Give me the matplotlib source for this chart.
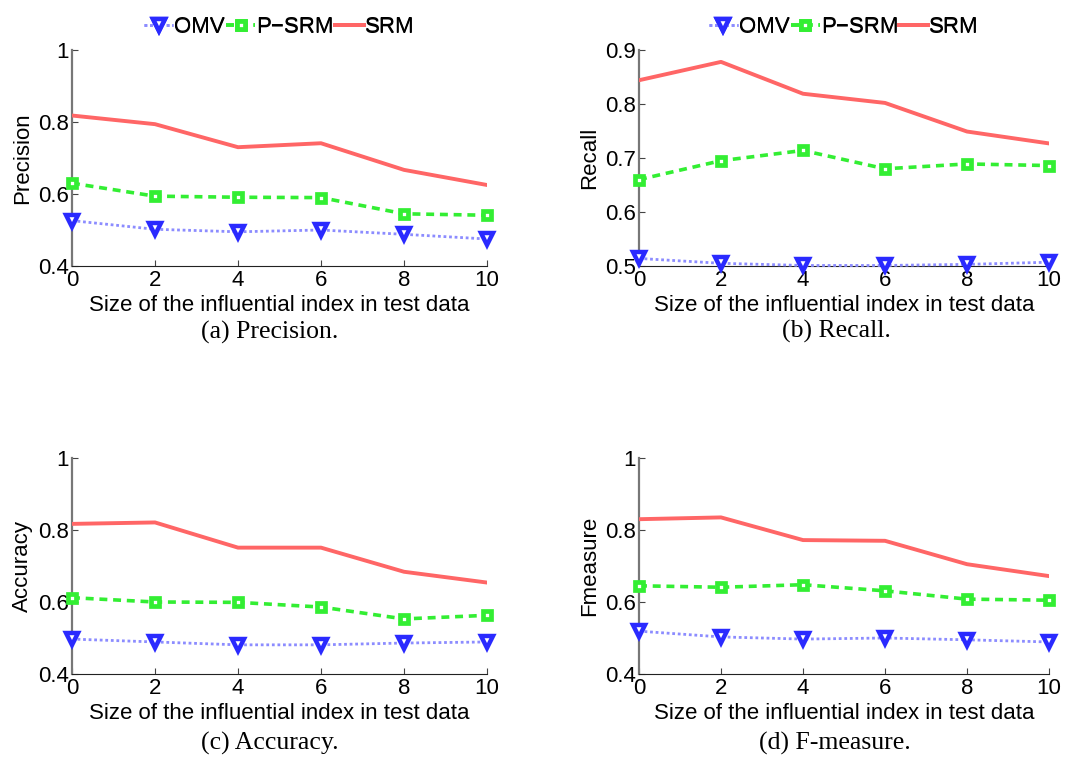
import matplotlib
matplotlib.use("Agg")
import matplotlib.pyplot as plt

x = [0, 2, 4, 6, 8, 10]
xticks = [0, 2, 4, 6, 8, 10]
series_names = ["OMV", "P\u2212SRM", "SRM"]

precision_omv = [0.526, 0.502, 0.495, 0.500, 0.488, 0.475]
precision_psrm = [0.630, 0.594, 0.591, 0.590, 0.545, 0.541]
precision_srm = [0.818, 0.794, 0.730, 0.741, 0.667, 0.625]

recall_omv = [0.514, 0.505, 0.501, 0.501, 0.503, 0.507]
recall_psrm = [0.660, 0.695, 0.714, 0.680, 0.689, 0.686]
recall_srm = [0.844, 0.878, 0.819, 0.802, 0.749, 0.727]

accuracy_omv = [0.497, 0.489, 0.481, 0.481, 0.486, 0.489]
accuracy_psrm = [0.612, 0.600, 0.599, 0.586, 0.553, 0.563]
accuracy_srm = [0.817, 0.821, 0.751, 0.751, 0.684, 0.654]

fmeasure_omv = [0.519, 0.503, 0.497, 0.500, 0.495, 0.489]
fmeasure_psrm = [0.645, 0.641, 0.648, 0.631, 0.608, 0.605]
fmeasure_srm = [0.830, 0.835, 0.772, 0.770, 0.705, 0.672]

panels = [
    ("Precision", "(a) Precision.", precision_omv, precision_psrm, precision_srm, (0.4, 1.0), [0.4, 0.6, 0.8, 1.0], ["0.4", "0.6", "0.8", "1"]),
    ("Recall", "(b) Recall.", recall_omv, recall_psrm, recall_srm, (0.5, 0.9), [0.5, 0.6, 0.7, 0.8, 0.9], ["0.5", "0.6", "0.7", "0.8", "0.9"]),
    ("Accuracy", "(c) Accuracy.", accuracy_omv, accuracy_psrm, accuracy_srm, (0.4, 1.0), [0.4, 0.6, 0.8, 1.0], ["0.4", "0.6", "0.8", "1"]),
    ("Fmeasure", "(d) F-measure.", fmeasure_omv, fmeasure_psrm, fmeasure_srm, (0.4, 1.0), [0.4, 0.6, 0.8, 1.0], ["0.4", "0.6", "0.8", "1"]),
]

W, H = 1087, 763
fig = plt.figure(figsize=(W / 100, H / 100), dpi=100)
plt.rcParams['font.family'] = ['Liberation Sans', 'DejaVu Sans']

# pixel boxes: left, top, right, bottom
boxes = [(72, 50, 487, 266), (639, 50, 1049, 266), (72, 458, 487, 674), (639, 458, 1049, 674)]
caption_pos = [(270, 332), (836, 331), (270, 743), (835, 743)]

blue = "#2a2aff"
green = "#33ee33"
red = "#ff6666"
FS = 16

for (ylab, cap, omv, psrm, srm, ylim, yt, ytl), (l, t, r, b), (cx, cy) in zip(panels, boxes, caption_pos):
    ax = fig.add_axes([l / W, 1 - b / H, (r - l) / W, (b - t) / H])
    ax.plot(x, omv, linestyle=(0, (1, 1)), color="#8c8cff", linewidth=2.0, marker="v",
            markersize=8, markerfacecolor="white", markeredgecolor=blue,
            markeredgewidth=3.2, label=series_names[0], zorder=3, clip_on=False)
    ax.plot(x, psrm, linestyle=(0, (2.2, 1.6)), color=green, linewidth=2.6, marker="s",
            markersize=6, markerfacecolor="white", markeredgecolor=green,
            markeredgewidth=3.4, label=series_names[1], zorder=3, clip_on=False)
    ax.plot(x, srm, linestyle="-", color=red, linewidth=2.8, label=series_names[2], zorder=3)
    ax.set_xlim(0, 10)
    ax.set_ylim(*ylim)
    ax.set_xticks(xticks)
    ax.set_xticklabels([str(v) for v in xticks], fontsize=FS)
    ax.set_yticks(yt)
    ax.set_yticklabels(ytl, fontsize=FS)
    ax.tick_params(axis="x", direction="in", length=4, width=0.8, pad=3, colors="#444444", labelcolor="black")
    ax.tick_params(axis="y", direction="in", length=4, width=0.8, pad=2, colors="#444444", labelcolor="black")
    ax.spines["top"].set_visible(False)
    ax.spines["right"].set_visible(False)
    ax.spines["left"].set_color("#777777")
    ax.spines["left"].set_linewidth(1.6)
    ax.spines["bottom"].set_color("#222222")
    ax.set_xlabel("Size of the influential index in test data", fontsize=FS, labelpad=2.5)
    ax.set_ylabel(ylab, fontsize=FS, labelpad=4)
    ax.legend(loc="center", bbox_to_anchor=(0.5, (b - 27) / (b - t)), ncol=3,
              frameon=False, fontsize=FS, handlelength=1.3, handletextpad=0.05,
              columnspacing=0.05, numpoints=1)
    fig.text(cx / W, 1 - cy / H, cap, ha="center", va="center",
             fontsize=18.5, family="Liberation Serif")

fig.savefig("out.png", dpi=100)
